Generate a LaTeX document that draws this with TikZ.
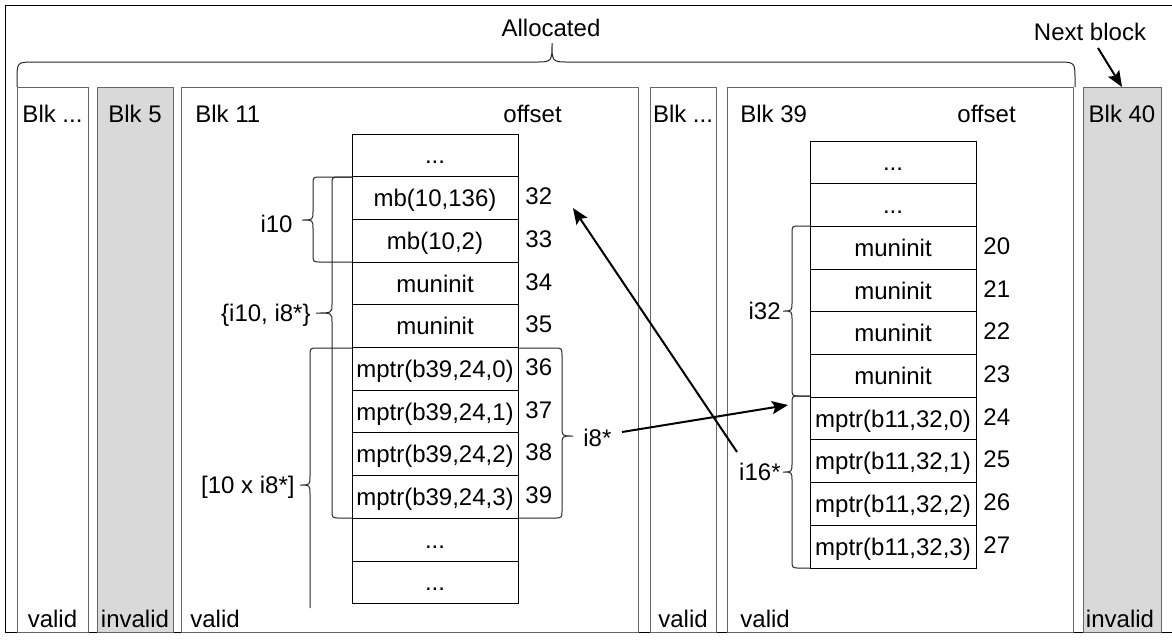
\documentclass[tikz,border=0pt]{standalone}
\usepackage{fontspec}
\setmainfont{Liberation Sans}
\usetikzlibrary{calc,positioning,arrows.meta}
\definecolor{blkgray}{HTML}{D9D9D9}
\definecolor{blkline}{HTML}{666666}
\newcommand{\etcdots}{...}
% arm end, spine, tip, top, tip y, bottom
\newcommand{\membrace}[6]{%
  \draw[brc] (#1,#4) -- ({#2+8*sign(#1-#2)},#4) .. controls (#2,#4) .. (#2,#4+8)
    -- (#2,#5-9) .. controls (#2,#5) .. (#3,#5) .. controls (#2,#5) .. (#2,#5+9)
    -- (#2,#6-8) .. controls (#2,#6) .. ({#2+8*sign(#1-#2)},#6) -- (#1,#6);}
\tikzset{
  blk/.style={draw=blkline, line width=0.5pt},
  cell/.style={draw, line width=0.5pt, minimum width=83pt, minimum height=21.35pt},
  off/.style={anchor=west},
  brc/.style={draw=black!85, line width=0.5pt},
  ptr/.style={-{Stealth[length=8pt,width=6.5pt,inset=1.5pt]}, line width=1pt},
}

\begin{document}
\begin{tikzpicture}[x=0.5pt, y=-0.5pt, font=\fontsize{12}{14}\selectfont,
    every node/.style={inner sep=0pt, text height=8.6pt, text depth=0pt}]
    \useasboundingbox (0,0) rectangle (1172,639);
    \draw[line width=0.5pt] (5,5) rectangle (1180,632);

    \foreach \xa/\xb/\f in {17/88/white, 97/173/blkgray, 181/638/white,
                            650/716/white, 727/1073/white, 1083/1161/blkgray}
        \draw[blk, fill=\f] (\xa,87) rectangle (\xb,632);

    \draw[brc] (17,87) -- (17,80) .. controls (17,62) .. (35,62) -- (535,62)
        .. controls (552,62) .. (552,43) .. controls (552,62) .. (569,62)
        -- (1057,62) .. controls (1075,62) .. (1075,80) -- (1075,87);
    \node (alloc) at (551,28) {Allocated};
    \node (nxt) at (1090,32) {Next block};

    \node (n1) at (52.5,113.5) {Blk ...};
    \node (n2) at (135,113.5) {Blk 5};
    \node[anchor=west] (n3) at (195,113.5) {Blk 11};
    \node[anchor=west] (o3) at (503,113.5) {offset};
    \node (n4) at (683,113.5) {Blk ...};
    \node[anchor=west] (n5) at (740,113.5) {Blk 39};
    \node[anchor=west] (o5) at (957,113.5) {offset};
    \node (n6) at (1122,113.5) {Blk 40};

    \node (v1) at (52.5,618.5) {valid};
    \node (v2) at (135,618.5) {invalid};
    \node[anchor=west] (v3) at (190,618.5) {valid};
    \node (v4) at (683,618.5) {valid};
    \node[anchor=west] (v5) at (740,618.5) {valid};
    \node (v6) at (1120,618.5) {invalid};

    \foreach \t [count=\i from 0] in {\etcdots,{mb(10,136)},{mb(10,2)},muninit,muninit,
        {mptr(b39,24,0)},{mptr(b39,24,1)},{mptr(b39,24,2)},{mptr(b39,24,3)},\etcdots,\etcdots}
        \node[cell] (a\i) at (435,{134+42.7*(\i+0.5)}) {\t};
    \foreach \i in {1,...,8}
        \node[off] (oa\i) at (525,{134+42.7*(\i+0.5)-2}) {\the\numexpr31+\i\relax};

    \foreach \t [count=\i from 0] in {\etcdots,\etcdots,muninit,muninit,muninit,muninit,
        {mptr(b11,32,0)},{mptr(b11,32,1)},{mptr(b11,32,2)},{mptr(b11,32,3)}}
        \node[cell] (b\i) at (893,{141+42.7*(\i+0.5)}) {\t};
    \foreach \i in {2,...,9}
        \node[off] (ob\i) at (983,{141+42.7*(\i+0.5)-2}) {\the\numexpr18+\i\relax};

    \membrace{352}{313}{302}{177}{220}{262}
    \membrace{352}{332}{316}{177}{313}{518}
    \membrace{518}{562}{573}{348}{436}{518}
    \draw[brc] (352,348) -- (318,348) .. controls (310,348) .. (310,356)
        -- (310,476) .. controls (310,485) .. (300,485) .. controls (310,485) .. (310,494)
        -- (310,608);
    \membrace{810}{792}{783}{226}{311}{396}
    \membrace{810}{792}{783}{396}{472}{568}

    \node[anchor=east] (i10) at (293,224) {i10};
    \node[anchor=east] (i10i8) at (311,313) {\{i10, i8*\}};
    \node[anchor=west] (i8) at (583,438) {i8*};
    \node[anchor=east] (arr) at (295,485) {[10 x i8*]};
    \node[anchor=east] (i32) at (781,311) {i32};
    \node[anchor=east] (i16) at (781,472) {i16*};

    \coordinate (nxtfoot) at (1098,48);
    \coordinate (b40top) at (1122,87);
    \coordinate (i16foot) at (737,452);
    \coordinate (at32) at (573,208);
    \coordinate (i8foot) at (622,432);
    \coordinate (at24) at (788,405);
    \draw[ptr] (nxtfoot) -- (b40top);
    \draw[ptr] (i16foot) -- (at32);
    \draw[ptr] (i8foot) -- (at24);
\end{tikzpicture}
\end{document}
